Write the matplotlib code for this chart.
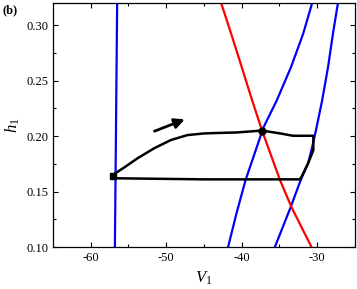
import matplotlib
matplotlib.use('Agg')
import matplotlib.pyplot as plt

plt.rcParams['font.family'] = 'Liberation Serif'
plt.rcParams['mathtext.fontset'] = 'custom'
plt.rcParams['mathtext.rm'] = 'Liberation Serif'
plt.rcParams['mathtext.it'] = 'Liberation Serif:italic'
plt.rcParams['axes.unicode_minus'] = False

# nullclines / curves (V1, h1)
blue_left_v = [-56.8, -56.5]
blue_left_h = [0.10, 0.32]

blue_mid_v = [-41.8, -40.7, -39.5, -37.1, -35.36, -33.45, -31.84, -30.66]
blue_mid_h = [0.10, 0.130, 0.160, 0.208, 0.232, 0.2624, 0.2925, 0.32]

blue_right_v = [-35.6, -33.5, -32.2, -31.2, -30.66, -30.1, -29.34, -28.55, -27.9, -27.24]
blue_right_h = [0.10, 0.136, 0.160, 0.1754, 0.190, 0.207, 0.232, 0.2624, 0.2925, 0.32]

red_v = [-42.72, -41.4, -40.0, -38.6, -37.3, -34.9, -33.4, -30.75]
red_h = [0.32, 0.2925, 0.2624, 0.232, 0.205, 0.160, 0.136, 0.10]

# limit cycle trajectory
cycle_v = [-57.07, -55.5, -53.8, -51.6, -49.4, -47.2, -45.0, -43.7, -40.6,
           -37.3, -34.9, -33.2, -30.5, -30.5, -31.2, -32.07, -32.3, -45.0,
           -57.07, -57.07]
cycle_h = [0.165, 0.172, 0.180, 0.189, 0.1964, 0.2009, 0.2024, 0.2027, 0.2033,
           0.205, 0.2024, 0.2003, 0.2003, 0.1874, 0.1754, 0.1633, 0.161, 0.161,
           0.162, 0.165]

square_pt = (-57.07, 0.164)
dot_pt = (-37.3, 0.205)
arrow_tail = (-51.9, 0.2035)
arrow_tip = (-47.2, 0.216)

fig = plt.figure(figsize=(3.57, 2.89), dpi=100)
ax = fig.add_axes([0.1485, 0.1453, 0.8455, 0.8443])

ax.plot(blue_left_v, blue_left_h, color='#0000ff', lw=1.6)
ax.plot(blue_mid_v, blue_mid_h, color='#0000ff', lw=1.6)
ax.plot(blue_right_v, blue_right_h, color='#0000ff', lw=1.6)
ax.plot(red_v, red_h, color='#ff0000', lw=1.6)
ax.plot(cycle_v, cycle_h, color='black', lw=1.8, solid_joinstyle='round')
ax.plot(*square_pt, marker='s', color='black', ms=5)
ax.plot(*dot_pt, marker='o', color='black', ms=5)
ax.annotate('', xy=arrow_tip, xytext=arrow_tail,
            arrowprops=dict(arrowstyle='-|>,head_length=0.6,head_width=0.3',
                            color='black', lw=2))

ax.set_xlim(-65, -25)
ax.set_ylim(0.10, 0.32)
ax.set_xticks([-60, -50, -40, -30])
ax.set_xticks([-55, -45, -35], minor=True)
ax.set_yticks([0.10, 0.15, 0.20, 0.25, 0.30])
ax.set_yticks([0.125, 0.175, 0.225, 0.275], minor=True)
ax.set_yticklabels(['0.10', '0.15', '0.20', '0.25', '0.30'])
ax.tick_params(which='both', direction='in', top=True, right=True,
               labelsize=9, width=0.8)
ax.tick_params(which='major', length=3.5)
ax.tick_params(which='minor', length=2.5)
for s in ax.spines.values():
    s.set_linewidth(0.9)

ax.set_xlabel('$V_1$', fontsize=12, labelpad=4)
ax.set_ylabel('$h_1$', fontsize=12, labelpad=3)
fig.text(0.006, 0.965, '(b)', fontsize=9, fontweight='bold', va='center')

fig.savefig('out.png', dpi=100)
